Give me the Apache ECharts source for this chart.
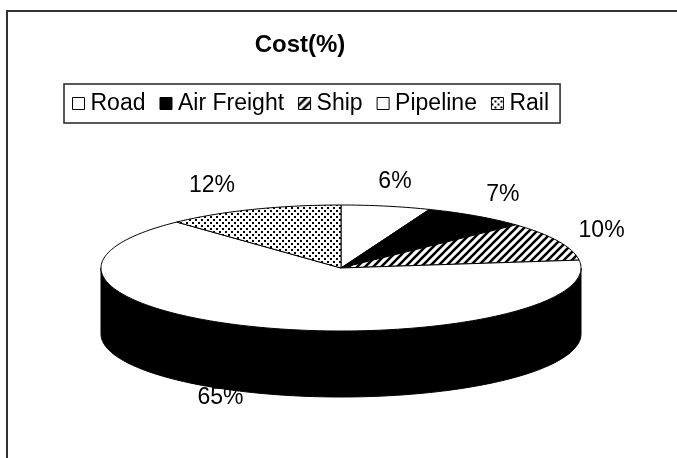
<!DOCTYPE html>
<html>
<head>
<meta charset="utf-8">
<script src="https://cdn.jsdelivr.net/npm/echarts@6/dist/echarts.min.js"></script>
<style>
html,body{margin:0;padding:0;background:#fff;}
#chart{width:677px;height:458px;}
</style>
</head>
<body>
<div id="chart"></div>
<script>
// ---- data ----
const categories = ['Road', 'Air Freight', 'Ship', 'Pipeline', 'Rail'];
const costValues = [6, 7, 10, 65, 12];
const chartTitle = 'Cost(%)';

// ---- fills ----
function makePattern(kind) {
  const c = document.createElement('canvas');
  const ctx = c.getContext('2d');
  if (kind === 'hatch') {
    c.width = 8; c.height = 8;
    ctx.fillStyle = '#fff'; ctx.fillRect(0, 0, 8, 8);
    ctx.strokeStyle = '#000'; ctx.lineWidth = 2.6;
    ctx.beginPath();
    ctx.moveTo(-2, 10); ctx.lineTo(10, -2);
    ctx.moveTo(-6, 6); ctx.lineTo(6, -6);
    ctx.moveTo(2, 14); ctx.lineTo(14, 2);
    ctx.stroke();
  } else {
    c.width = 6; c.height = 6;
    ctx.fillStyle = '#fff'; ctx.fillRect(0, 0, 6, 6);
    ctx.fillStyle = '#000';
    ctx.fillRect(0, 0, 2, 2);
    ctx.fillRect(3, 3, 2, 2);
  }
  return { image: c, repeat: 'repeat' };
}
const fills = ['#ffffff', '#000000', makePattern('hatch'), '#ffffff', makePattern('dots')];

// ---- layout ----
const L = { cx: 341, cy: 268, rx: 240, ry: 63, depth: 66 };
const FONT = '"Liberation Sans", Arial, sans-serif';

const total = costValues.reduce((a, b) => a + b, 0);
const cum = [0];
costValues.forEach((v, i) => cum.push(cum[i] + v));

function pt(a, dy) {
  return [L.cx + L.rx * Math.sin(a), L.cy - L.ry * Math.cos(a) + (dy || 0)];
}
function arc(a0, a1, dy) {
  const n = Math.max(2, Math.ceil((a1 - a0) / 0.02));
  const out = [];
  for (let k = 0; k <= n; k++) out.push(pt(a0 + (a1 - a0) * k / n, dy));
  return out;
}

function makeRender(si) {
  return function (params, api) {
    const v = api.value(0);
    const a0 = 2 * Math.PI * cum[si] / total;
    const a1 = 2 * Math.PI * (cum[si] + v) / total;
    const children = [];
    // visible side wall (front half)
    const s = Math.max(a0, Math.PI / 2), e = Math.min(a1, 3 * Math.PI / 2);
    if (e > s) {
      const top = arc(s, e, 0);
      const bot = arc(s, e, L.depth).reverse();
      children.push({
        type: 'polygon', z2: 1,
        shape: { points: top.concat(bot) },
        style: { fill: '#000', stroke: '#000', lineWidth: 1 }
      });
    }
    // top face
    children.push({
      type: 'polygon', z2: 2,
      shape: { points: [[L.cx, L.cy]].concat(arc(a0, a1, 0)) },
      style: { fill: fills[si], stroke: '#000', lineWidth: 1 }
    });
    // label
    const m = (a0 + a1) / 2;
    const sn = Math.sin(m), cs = Math.cos(m);
    const lx = L.cx + L.rx * 1.2 * sn;
    const ly = L.cy - L.ry * 1.4 * cs + (cs < 0 ? L.depth * 0.7 : 0);
    children.push({
      type: 'text', z2: 30,
      style: {
        text: Math.round(v / total * 100) + '%',
        x: lx, y: ly,
        align: sn >= 0 ? 'center' : 'right',
        verticalAlign: 'middle',
        font: '23px ' + FONT,
        fill: '#000'
      }
    });
    return { type: 'group', children: children };
  };
}

const chart = echarts.init(document.getElementById('chart'), null, { renderer: 'canvas' });
chart.setOption({
  animation: false,
  backgroundColor: '#fff',
  graphic: [
    {
      type: 'rect', silent: true, z: -10,
      shape: { x: 7, y: 11, width: 720, height: 520 },
      style: { fill: 'none', stroke: '#333', lineWidth: 2 }
    },
    {
      type: 'text', silent: true,
      x: 300, y: 45,
      style: {
        text: chartTitle, align: 'center', verticalAlign: 'middle',
        font: 'bold 24px ' + FONT, fill: '#000'
      }
    }
  ],
  legend: {
    left: 64, top: 84,
    padding: [8, 11, 8, 8],
    borderColor: '#222', borderWidth: 1.5,
    itemGap: 14, itemWidth: 12, itemHeight: 12,
    icon: 'rect',
    textStyle: { fontSize: 23, fontFamily: FONT, color: '#000', padding: [0, 0, 0, 1] },
    data: categories.map((n, i) => ({
      name: n, icon: 'rect',
      itemStyle: { color: fills[i], borderColor: '#000', borderWidth: 1 }
    })),
    selectedMode: false
  },
  series: categories.map((n, i) => ({
    type: 'custom',
    name: n,
    coordinateSystem: 'none',
    itemStyle: { color: fills[i], borderColor: '#000', borderWidth: 1 },
    renderItem: makeRender(i),
    data: [[costValues[i]]]
  }))
});
</script>
</body>
</html>
